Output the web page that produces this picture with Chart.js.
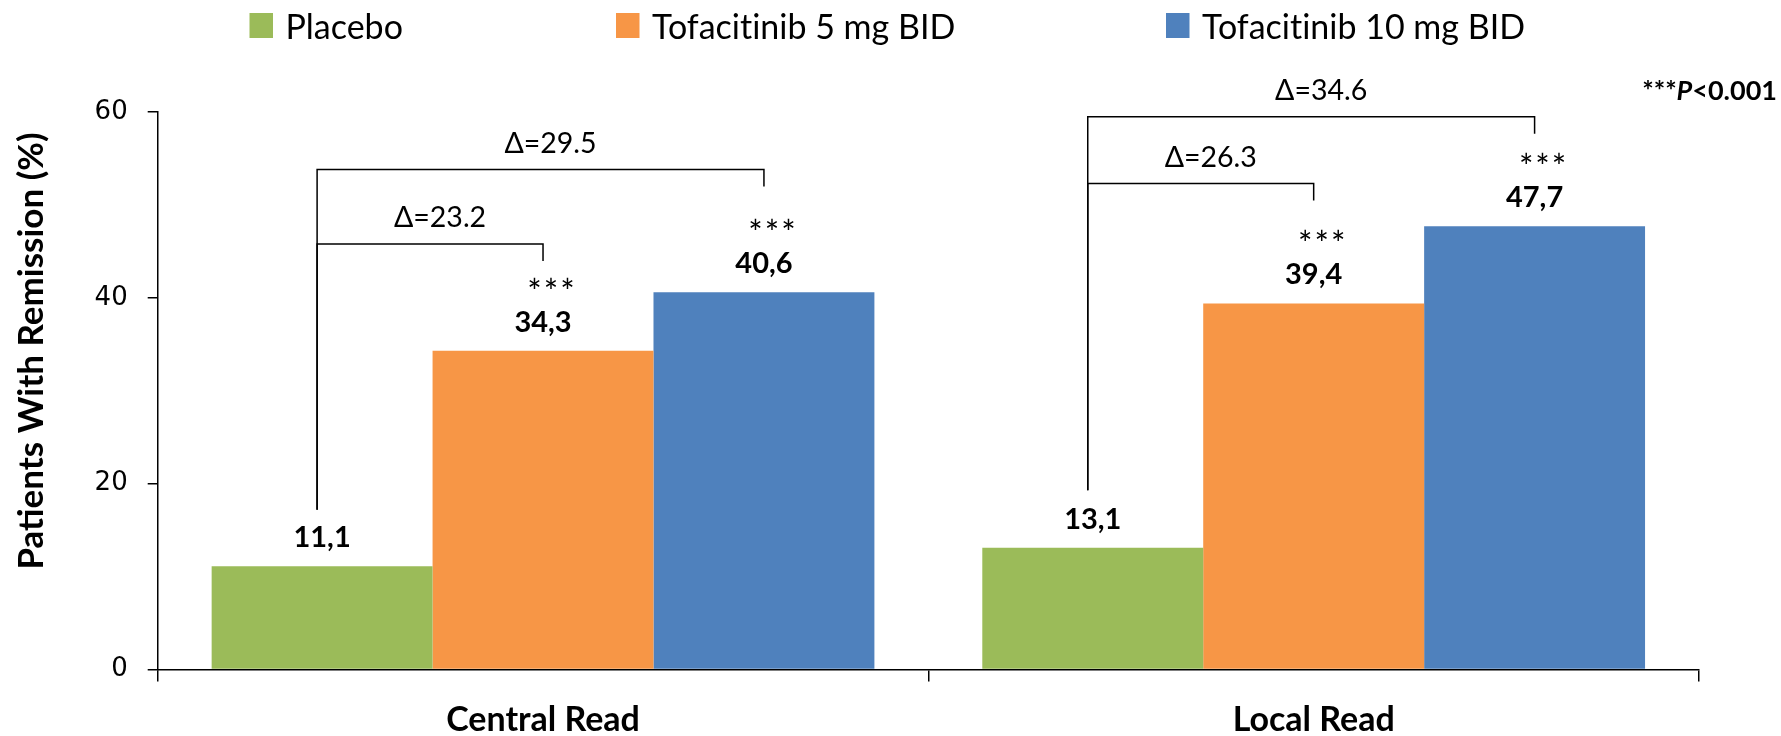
<!DOCTYPE html>
<html>
<head>
<meta charset="utf-8">
<title>Remission rates</title>
<script src="https://cdn.jsdelivr.net/npm/chart.js@4.4.1/dist/chart.umd.min.js"></script>
<style>
  html, body { margin: 0; padding: 0; background: #fff; }
  #chartSpace { position: relative; width: 1781px; height: 736px; }
</style>
</head>
<body>
<div id="chartSpace"><canvas id="chart"></canvas></div>
<script>
const categories = ['Central Read', 'Local Read'];
const seriesLabels = ['Placebo', 'Tofacitinib 5 mg BID', 'Tofacitinib 10 mg BID'];
const placebo = [11.1, 13.1];
const tofa5 = [34.3, 39.4];
const tofa10 = [40.6, 47.7];
const yTicks = [0, 20, 40, 60];
const delta5 = [23.2, 26.3];
const delta10 = [29.5, 34.6];
const yTitle = 'Patients With Remission (%)';

const colors = ['#9BBB59', '#F79646', '#4F81BD'];
const sans = 'Lato, "Open Sans", sans-serif';

// comparison brackets: top bar and left foot in axis units
const brackets = [
  { cat: 0, to: 1, delta: delta5[0], top: 45.8, foot: 17.2 },
  { cat: 0, to: 2, delta: delta10[0], top: 53.8, foot: 17.2 },
  { cat: 1, to: 1, delta: delta5[1], top: 52.3, foot: 19.3 },
  { cat: 1, to: 2, delta: delta10[1], top: 59.5, foot: 19.3 }
];

const legendX = [249.5, 616, 1166];

const annotations = {
  id: 'annotations',
  afterDatasetsDraw(chart) {
    const ctx = chart.ctx;
    const y = chart.scales.y;
    ctx.save();
    ctx.fillStyle = '#000';
    ctx.textAlign = 'center';
    ctx.textBaseline = 'alphabetic';

    // value labels and significance stars
    chart.data.datasets.forEach((ds, di) => {
      chart.getDatasetMeta(di).data.forEach((bar, i) => {
        ctx.font = 'bold 29px ' + sans;
        ctx.fillText(ds.data[i].toFixed(1).replace('.', ','), bar.x, bar.y - 19);
        if (di > 0) {
          ctx.font = '34px ' + sans;
          ctx.letterSpacing = '2px';
          ctx.fillText('***', bar.x + 9, bar.y - 47);
          ctx.letterSpacing = '0px';
        }
      });
    });

    // brackets with deltas
    ctx.strokeStyle = '#000';
    ctx.lineWidth = 1.5;
    brackets.forEach(b => {
      const x0 = chart.getDatasetMeta(0).data[b.cat].x - 5;
      const x1 = chart.getDatasetMeta(b.to).data[b.cat].x;
      const yt = y.getPixelForValue(b.top);
      ctx.beginPath();
      ctx.moveTo(x0, y.getPixelForValue(b.foot));
      ctx.lineTo(x0, yt);
      ctx.lineTo(x1, yt);
      ctx.lineTo(x1, yt + 17);
      ctx.stroke();
      ctx.font = '28.5px ' + sans;
      ctx.fillText('\u0394=' + b.delta.toFixed(1), (x0 + x1) / 2 + 10, yt - 17);
    });
    ctx.restore();
  },
  afterDraw(chart) {
    const ctx = chart.ctx;
    ctx.save();
    ctx.fillStyle = '#000';
    ctx.textBaseline = 'alphabetic';

    // legend (no ligatures, so "ti" stays two letters)
    ctx.textRendering = 'optimizeSpeed';
    chart.data.datasets.forEach((ds, i) => {
      const x = legendX[i];
      ctx.fillStyle = ds.backgroundColor;
      ctx.fillRect(x, 13, 23.5, 25);
      ctx.fillStyle = '#000';
      ctx.textAlign = 'left';
      ctx.font = '34px ' + sans;
      ctx.fillText(ds.label, x + 36, 39);
    });
    ctx.textRendering = 'auto';

    // y axis title
    ctx.save();
    ctx.translate(43, 351);
    ctx.rotate(-Math.PI / 2);
    ctx.textAlign = 'center';
    ctx.font = 'bold 35px ' + sans;
    ctx.fillText(yTitle, 0, 0);
    ctx.restore();

    // p-value note
    const parts = [['bold 27px ', '***'], ['italic bold 27px ', 'P'], ['bold 27px ', '<0.001']];
    let w = 0;
    parts.forEach(p => { ctx.font = p[0] + sans; w += ctx.measureText(p[1]).width; });
    let x = 1777 - w;
    ctx.textAlign = 'left';
    parts.forEach(p => {
      ctx.font = p[0] + sans;
      ctx.fillText(p[1], x, 100);
      x += ctx.measureText(p[1]).width;
    });
    ctx.restore();
  }
};

const ctx = document.getElementById('chart');

new Chart(ctx, {
  type: 'bar',
  data: {
    labels: categories,
    datasets: [
      { label: seriesLabels[0], data: placebo, backgroundColor: colors[0] },
      { label: seriesLabels[1], data: tofa5, backgroundColor: colors[1] },
      { label: seriesLabels[2], data: tofa10, backgroundColor: colors[2] }
    ]
  },
  options: {
    responsive: true,
    maintainAspectRatio: false,
    animation: false,
    datasets: {
      bar: { categoryPercentage: 0.86, barPercentage: 1.0, borderWidth: 0 }
    },
    layout: { padding: { top: 112, right: 82, left: 0, bottom: 0 } },
    plugins: {
      legend: { display: false },
      tooltip: { enabled: false }
    },
    scales: {
      x: {
        offset: true,
        grid: { offset: true, drawOnChartArea: false, tickLength: 12, color: '#000', lineWidth: 1.5 },
        border: { color: '#000', width: 1.5 },
        ticks: { color: '#000', padding: 18, font: { family: sans, weight: 'bold', size: 34 } },
        afterFit: s => { s.height = 736 - 669.5; }
      },
      y: {
        min: 0,
        max: 60,
        afterBuildTicks: s => { s.ticks = yTicks.map(v => ({ value: v })); },
        grid: { drawOnChartArea: false, tickLength: 10, color: '#000', lineWidth: 1.5 },
        border: { color: '#000', width: 1.5 },
        ticks: { color: '#000', padding: 20, font: { family: '"DejaVu Sans", Verdana, sans-serif', size: 26 } },
        afterFit: s => { s.width = 157.7; }
      }
    }
  },
  plugins: [annotations]
});
</script>
</body>
</html>
